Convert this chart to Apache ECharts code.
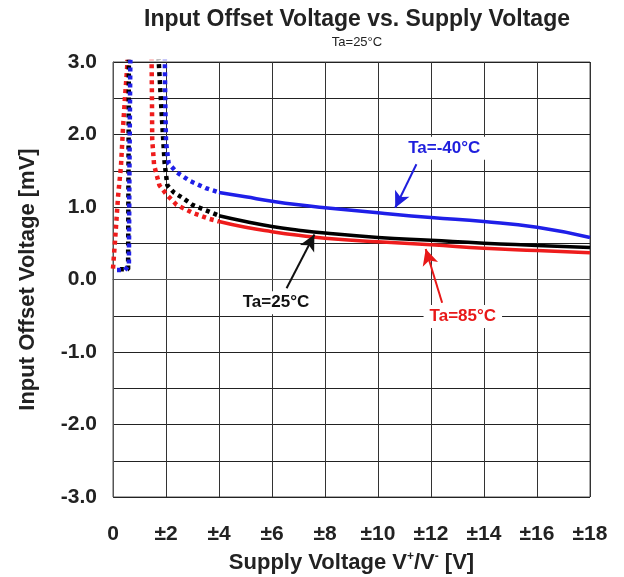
<!DOCTYPE html>
<html>
<head>
<meta charset="utf-8">
<script src="https://cdn.jsdelivr.net/npm/echarts@6/dist/echarts.min.js"></script>
<style>
  html, body { margin: 0; padding: 0; background: #fff; }
  #chart { width: 624px; height: 577px; }
</style>
</head>
<body>
<div id="chart"></div>
<script>
// Supply voltage [V] vs input offset voltage [mV]
// dotted part = low supply region, solid part = normal operating range
const red85Dotted = [
  [0.0, 0.15], [0.08, 0.55], [0.19, 1.14], [0.3, 1.56], [0.38, 2.1], [0.45, 2.5], [0.53, 2.9], [0.58, 3.3],
  null,
  [1.45, 3.3], [1.47, 2.5], [1.48, 1.93], [1.55, 1.58], [1.75, 1.3], [2.0, 1.18], [2.4, 1.03],
  [3.0, 0.92], [3.6, 0.84], [4.0, 0.8]
];
const red85Solid = [
  [4.0, 0.8], [5, 0.72], [6, 0.66], [7, 0.61], [8, 0.57], [10, 0.52], [12, 0.48], [14, 0.43], [16, 0.40], [18, 0.37]
];
const black25Dotted = [
  [0.26, 0.14], [0.57, 0.14], [0.58, 1.0], [0.59, 2.0], [0.6, 3.3],
  null,
  [1.68, 3.3], [1.75, 2.85], [1.85, 2.2], [1.95, 1.6], [2.05, 1.3], [2.3, 1.2], [2.65, 1.12],
  [3.0, 1.03], [3.6, 0.94], [4.0, 0.88]
];
const black25Solid = [
  [4.0, 0.88], [5, 0.8], [6, 0.73], [7, 0.68], [8, 0.64], [10, 0.58], [12, 0.54], [14, 0.5], [16, 0.47], [18, 0.44]
];
const blue40Dotted = [
  [0.15, 0.13], [0.45, 0.13], [0.6, 0.2], [0.62, 1.5], [0.66, 3.3],
  null,
  [1.95, 3.3], [1.97, 2.5], [2.0, 1.9], [2.1, 1.6], [2.4, 1.48], [2.9, 1.36], [3.5, 1.26], [4.0, 1.2]
];
const blue40Solid = [
  [4.0, 1.2], [5, 1.14], [6, 1.08], [7, 1.03], [8, 0.99], [10, 0.92], [12, 0.855], [14, 0.8], [16, 0.72], [18, 0.58]
];

// annotation text position and arrow [from, to], in data units
const labels = [
  { text: 'Ta=-40°C', color: '#1f1fdd', at: [12.5, 1.81], arrow: [[11.45, 1.59], [10.65, 0.99]] },
  { text: 'Ta=25°C', color: '#111', at: [6.15, -0.32], arrow: [[6.55, -0.12], [7.6, 0.62]] },
  { text: 'Ta=85°C', color: '#e81818', at: [13.2, -0.51], arrow: [[12.42, -0.32], [11.8, 0.42]] }
];

const FONT = "'Liberation Sans', Arial, sans-serif";

const chart = echarts.init(document.getElementById('chart'), null, { renderer: 'canvas' });

function dotted(name, data, color) {
  return {
    name, type: 'line', data, showSymbol: false, connectNulls: false,
    lineStyle: { color, width: 4.5, type: [4, 4] }, animation: false, z: 3
  };
}
function solid(name, data, color) {
  return {
    name, type: 'line', data, showSymbol: false, smooth: true,
    lineStyle: { color, width: 3.5 }, animation: false, z: 3
  };
}

const notes = labels.map(l => ({
  type: 'line', data: [], animation: false, z: 5,
  markLine: {
    silent: true, animation: false,
    symbol: ['none', 'arrow'], symbolSize: [12, 16],
    lineStyle: { color: l.color, width: 2, type: 'solid' },
    label: { show: false },
    data: [[{ coord: l.arrow[0] }, { coord: l.arrow[1] }]]
  },
  markPoint: {
    silent: true, animation: false,
    symbol: 'rect', symbolSize: 1, itemStyle: { color: 'rgba(0,0,0,0)' },
    label: {
      show: true, position: 'inside', formatter: l.text,
      color: l.color, fontFamily: FONT, fontSize: 17, fontWeight: 'bold',
      backgroundColor: '#fff', padding: [3, 6]
    },
    data: [{ coord: l.at }]
  }
}));

chart.setOption({
  backgroundColor: '#fff',
  title: {
    left: 352, top: 3, textAlign: 'center', itemGap: 5,
    text: 'Input Offset Voltage vs. Supply Voltage',
    textStyle: { fontFamily: FONT, fontSize: 23, fontWeight: 'bold', color: '#222' },
    subtext: 'Ta=25°C',
    subtextStyle: { fontFamily: FONT, fontSize: 13, color: '#222' }
  },
  grid: {
    left: 113, right: 34, top: 62, bottom: 80, outerBoundsMode: 'none',
    show: true, borderColor: '#555', borderWidth: 1
  },
  xAxis: {
    type: 'value', min: 0, max: 18, interval: 2,
    name: '{a|Supply Voltage V}{s|+}{a|/V}{s|-}{a| [V]}',
    nameLocation: 'middle', nameGap: 54,
    nameTextStyle: {
      rich: {
        a: { fontFamily: FONT, fontSize: 22, fontWeight: 'bold', color: '#222' },
        s: { fontFamily: FONT, fontSize: 12, fontWeight: 'bold', color: '#222', padding: [0, 0, 11, 0] }
      }
    },
    axisLine: { show: true, lineStyle: { color: '#555' } },
    axisTick: { show: false },
    axisLabel: {
      margin: 27, fontFamily: FONT, fontSize: 21, fontWeight: 'bold', color: '#222',
      formatter: v => (v === 0 ? '0' : '±' + v)
    },
    splitLine: { show: true, lineStyle: { color: '#333', width: 1 } }
  },
  yAxis: {
    type: 'value', min: -3, max: 3, interval: 0.5,
    name: 'Input Offset Voltage [mV]', nameLocation: 'middle', nameGap: 74,
    nameTextStyle: { fontFamily: FONT, fontSize: 22, fontWeight: 'bold', color: '#222' },
    axisLine: { show: true, lineStyle: { color: '#555' } },
    axisTick: { show: false },
    axisLabel: {
      margin: 16, fontFamily: FONT, fontSize: 21, fontWeight: 'bold', color: '#222',
      formatter: v => (Math.abs(v % 1) < 1e-9 ? v.toFixed(1) : '')
    },
    splitLine: { show: true, lineStyle: { color: '#222', width: 1 } }
  },
  series: [
    dotted('85 dotted', red85Dotted, '#ee1c1c'),
    dotted('25 dotted', black25Dotted, '#000'),
    dotted('-40 dotted', blue40Dotted, '#1f1fe8'),
    solid('85', red85Solid, '#ee1c1c'),
    solid('25', black25Solid, '#000'),
    solid('-40', blue40Solid, '#1f1fe8'),
    ...notes
  ]
});
</script>
</body>
</html>
